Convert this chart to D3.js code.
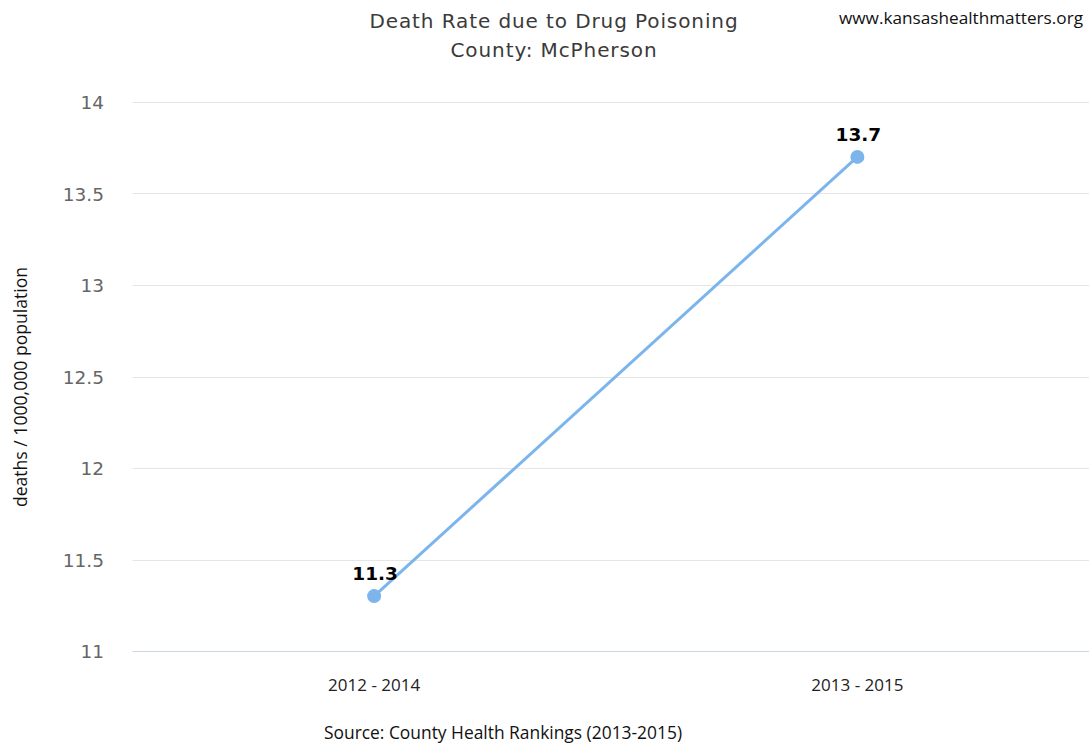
<!DOCTYPE html>
<html>
<head>
<meta charset="utf-8">
<script src="https://cdn.jsdelivr.net/npm/d3@7"></script>
<style>
  body { margin: 0; background: #fff; }
  svg { display: block; }
</style>
</head>
<body>
<div class="chart"></div>
<script>
const periods = ['2012 - 2014', '2013 - 2015'];
const rates = [11.3, 13.7];
const yTicks = [11, 11.5, 12, 12.5, 13, 13.5, 14];

const width = 1089;
const height = 744;
const margin = { top: 102, right: -10, bottom: 93, left: 132.5 };

const svg = d3.select('.chart')
  .append('svg')
  .attr('width', width)
  .attr('height', height);

const x = d3.scaleBand()
  .domain(periods)
  .range([margin.left, width - margin.right]);

const y = d3.scaleLinear()
  .domain([11, 14])
  .range([height - margin.bottom, margin.top]);

// gridlines
svg.append('g')
  .selectAll('line')
  .data(yTicks.slice(1))
  .enter()
  .append('line')
  .attr('x1', margin.left)
  .attr('x2', width)
  .attr('y1', d => Math.round(y(d)) + 0.5)
  .attr('y2', d => Math.round(y(d)) + 0.5)
  .attr('stroke', '#e6e6e6');

// x axis line
svg.append('line')
  .attr('x1', margin.left)
  .attr('x2', width)
  .attr('y1', Math.round(y(11)) + 0.5)
  .attr('y2', Math.round(y(11)) + 0.5)
  .attr('stroke', '#ccd6eb');

// y tick labels
svg.append('g')
  .selectAll('text')
  .data(yTicks)
  .enter()
  .append('text')
  .attr('x', 104)
  .attr('y', d => y(d) + 7)
  .attr('text-anchor', 'end')
  .attr('font-family', 'DejaVu Sans')
  .attr('font-size', 18.5)
  .attr('fill', '#666')
  .text(d => d);

// x labels
svg.append('g')
  .selectAll('text')
  .data(periods)
  .enter()
  .append('text')
  .attr('x', d => x(d) + x.bandwidth() / 2)
  .attr('y', 691)
  .attr('text-anchor', 'middle')
  .attr('font-family', 'Open Sans')
  .attr('font-size', 17)
  .attr('fill', '#222')
  .text(d => d);

const line = d3.line()
  .x((d, i) => x(periods[i]) + x.bandwidth() / 2)
  .y(d => y(d));

svg.append('path')
  .datum(rates)
  .attr('d', line)
  .attr('fill', 'none')
  .attr('stroke', '#7cb5ec')
  .attr('stroke-width', 3);

svg.append('g')
  .selectAll('circle')
  .data(rates)
  .enter()
  .append('circle')
  .attr('cx', (d, i) => x(periods[i]) + x.bandwidth() / 2)
  .attr('cy', d => y(d))
  .attr('r', 7)
  .attr('fill', '#7cb5ec');

// data labels
svg.append('g')
  .selectAll('text')
  .data(rates)
  .enter()
  .append('text')
  .attr('x', (d, i) => x(periods[i]) + x.bandwidth() / 2 + 1)
  .attr('y', d => y(d) - 16)
  .attr('text-anchor', 'middle')
  .attr('font-family', 'DejaVu Sans')
  .attr('font-weight', 'bold')
  .attr('font-size', 18.5)
  .attr('fill', '#000')
  .text(d => d.toFixed(1));

// title
svg.append('text')
  .attr('x', 554)
  .attr('y', 28)
  .attr('text-anchor', 'middle')
  .attr('font-family', 'DejaVu Sans')
  .attr('font-size', 20)
  .attr('letter-spacing', 0.9)
  .attr('fill', '#3a3a3a')
  .text('Death Rate due to Drug Poisoning');

svg.append('text')
  .attr('x', 554)
  .attr('y', 57)
  .attr('text-anchor', 'middle')
  .attr('font-family', 'DejaVu Sans')
  .attr('font-size', 20)
  .attr('letter-spacing', 0.9)
  .attr('fill', '#3a3a3a')
  .text('County: McPherson');

// website credit
svg.append('text')
  .attr('x', 1083)
  .attr('y', 24)
  .attr('text-anchor', 'end')
  .attr('font-family', 'Open Sans')
  .attr('font-size', 17.2)
  .attr('fill', '#111')
  .text('www.kansashealthmatters.org');

// y axis title
svg.append('text')
  .attr('transform', 'translate(27,387) rotate(-90)')
  .attr('text-anchor', 'middle')
  .attr('font-family', 'Open Sans')
  .attr('font-size', 17.6)
  .attr('fill', '#111')
  .text('deaths / 1000,000 population');

// source
svg.append('text')
  .attr('x', 503)
  .attr('y', 739)
  .attr('text-anchor', 'middle')
  .attr('font-family', 'Open Sans')
  .attr('font-size', 17.4)
  .attr('fill', '#111')
  .text('Source: County Health Rankings (2013-2015)');
</script>
</body>
</html>
